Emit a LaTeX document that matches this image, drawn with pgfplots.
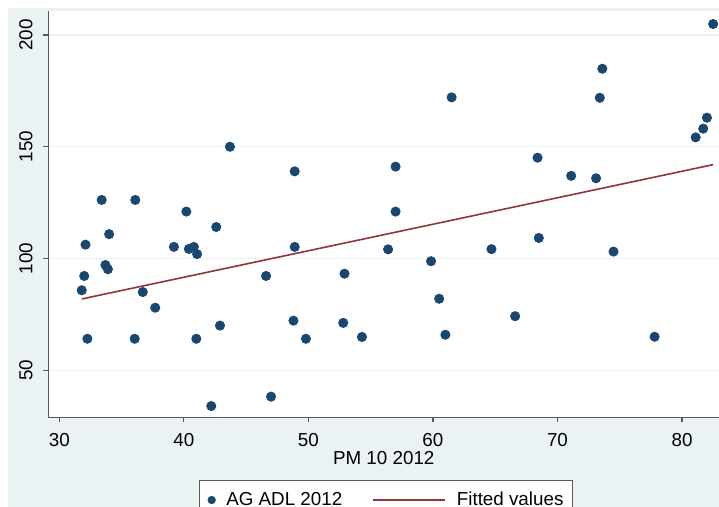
\documentclass[border=0pt]{standalone}
\usepackage{pgfplots}
\pgfplotsset{compat=1.18}
\usepackage{fontspec}
\setmainfont{Liberation Sans}
\definecolor{bgcol}{HTML}{EAF2F3}
\definecolor{navy}{HTML}{1A476F}
\definecolor{maroon}{HTML}{90353B}
\definecolor{gridc}{HTML}{EDF0F0}
\definecolor{axc}{HTML}{5A5A5A}
\newcommand{\fs}{\fontsize{9.4}{11}\selectfont}
\pgfplotsset{
  scatlegend/.style={legend image code/.code={\draw[mark repeat=2,mark phase=2,##1,mark size=1.8pt] plot coordinates {(0pt,0pt) (3pt,0pt) (6pt,0pt)};}},
  linelegend/.style={legend image code/.code={\draw[##1] (0pt,0pt) -- (36pt,0pt);}},
}
\begin{document}
\begin{tikzpicture}
\useasboundingbox (-24.25pt,-44.85pt) rectangle (335.25pt,208.65pt);
\fill[bgcol] (-20.25pt,-50pt) rectangle (340pt,204.75pt);
\begin{axis}[
  at={(0pt,0pt)}, anchor=south west,
  scale only axis, width=335.25pt, height=203pt,
  xmin=29.13, xmax=82.97, ymin=28.97, ymax=210.6,
  axis background/.style={fill=white},
  axis x line*=bottom, axis y line*=left,
  axis line style={-, draw=axc, line width=0.7pt},
  tick align=outside, major tick length=2.5pt,
  tick style={draw=axc, line width=0.6pt},
  xtick={30,40,...,80}, ytick={50,100,150,200},
  minor tick num=0,
  ymajorgrids, major grid style={draw=gridc, line width=0.7pt},
  /pgf/number format/assume math mode=true,
  xticklabel style={font=\fs, inner sep=0pt, anchor=north, yshift=-5.5pt},
  yticklabel style={font=\fs, inner sep=0pt, rotate=90, anchor=south, yshift=5.25pt},
  xlabel={PM 10 2012},
  xlabel style={font=\fs, at={(axis description cs:0.5,-0.0997)}, anchor=center, inner sep=0pt},
  legend columns=2,
  legend style={at={(axis description cs:0.503,-0.155)}, anchor=north,
    draw=axc, line width=0.5pt, fill=white, font=\fs,
    inner xsep=4.5pt, inner ysep=5.5pt,
    nodes={inner sep=0pt},
    /tikz/every odd column/.append style={column sep=5.5pt},
    /tikz/every even column/.append style={column sep=15pt}},
  legend cell align=left,
]
\addplot[only marks, mark=*, mark size=2.3pt, color=navy, scatlegend]
coordinates {
(31.8,85.8) (32.0,92.2) (32.1,106.2) (32.25,64.1) (33.4,126.2) (33.7,97.1)
(33.9,95.2) (34.0,110.9) (36.05,64.1) (36.1,126.2) (36.7,85.0) (37.7,78)
(39.2,105.2) (40.2,121) (40.4,104.3) (40.8,105.2) (41.06,102) (41.0,64.1)
(42.2,34) (42.6,114.1) (42.9,70) (43.7,150) (46.6,92.2) (47.0,38.2)
(48.8,72.2) (48.9,139) (48.9,105.2) (49.8,64.1) (52.8,71.2) (52.9,93.2)
(54.3,64.9) (56.4,104.1) (57.0,141.1) (57.0,121) (59.85,98.8) (60.5,82)
(61.0,65.9) (61.5,172.1) (64.7,104.2) (66.6,74.2) (68.4,145.1) (68.5,109.2)
(71.1,137) (73.1,135.9) (73.4,171.9) (73.6,184.9) (74.5,103.1) (77.8,65)
(81.1,154.2) (81.7,158.1) (82.0,163) (82.5,204.9)
};
\addlegendentry{AG ADL 2012}
\addplot[color=maroon, line width=0.8pt, no marks, linelegend]
coordinates {(31.8,81.9) (82.5,142)};
\addlegendentry{Fitted values}
\end{axis}
\end{tikzpicture}
\end{document}
